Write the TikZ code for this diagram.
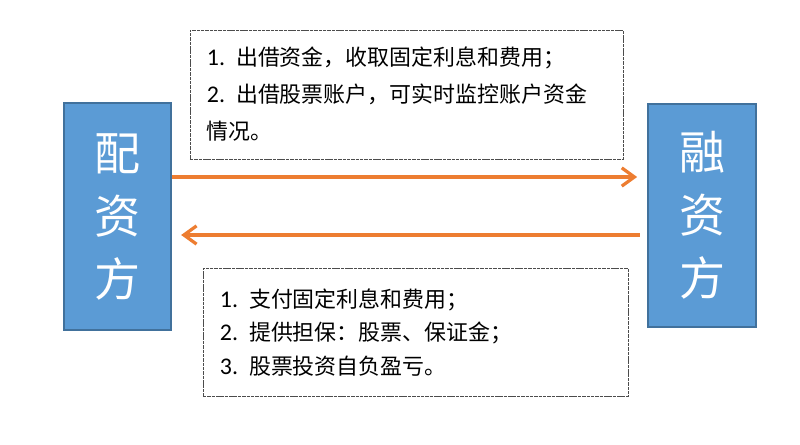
\documentclass[tikz,border=0pt]{standalone}
\usepackage{fontspec}
\newfontfamily\cjk{Noto Sans CJK SC}
\newfontfamily\latin{Carlito}
\usetikzlibrary{arrows.meta}
\definecolor{partyblue}{HTML}{5B9BD5}
\definecolor{partyedge}{HTML}{41719C}
\definecolor{flowcolor}{HTML}{ED7D31}
\newcommand{\itemno}[1]{{\latin\fontsize{17}{17}\selectfont #1.} }
\tikzset{
  party/.style={draw=partyedge, fill=partyblue, line width=1.4pt, text=white,
    font=\cjk\fontsize{32.7}{44.8}\selectfont, align=center, inner sep=0pt,
    minimum width=2.675cm},
  note/.style={draw=black!70, line width=0.6pt, dash pattern=on 2.5pt off 0.6pt,
    align=left, inner xsep=0.425cm, inner ysep=0pt, anchor=center},
  flow/.style={draw=flowcolor, line width=2.3pt,
    -{Straight Barb[length=9pt, width=13pt]}}
}
\begin{document}
\begin{tikzpicture}[x=0.025cm, y=-0.025cm]
  \useasboundingbox (0,0) rectangle (800,445);

  % Draw the two parties
  \node[party, minimum height=5.675cm] (pz) at (117.5,216.5) {配\\资\\方};
  \node[party, minimum height=5.575cm, minimum width=2.7cm] (rz) at (702,215.5) {融\\资\\方};

  % Draw the notes above and below the arrows
  \node[note, text width=9.975cm, minimum height=3.225cm,
    font=\cjk\fontsize{15.6}{26.3}\selectfont] (lend) at (406.5,94.5)
    {\itemno{1}出借资金，收取固定利息和费用；\\
     \itemno{2}出借股票账户，可实时监控账户资金\\
     情况。\\[-6pt]};
  \node[note, text width=9.775cm, minimum height=3.2cm,
    font=\cjk\fontsize{15.6}{23.8}\selectfont] (repay) at (415.5,332.5)
    {\itemno{1}支付固定利息和费用；\\
     \itemno{2}提供担保：股票、保证金；\\
     \itemno{3}股票投资自负盈亏。};

  % Draw the arrows between the parties
  \coordinate (go) at (0,177);
  \coordinate (back) at (0,235);
  \draw[flow, shorten >=7pt] (pz.east |- go) -- (rz.west |- go);
  \draw[flow, shorten <=5pt, shorten >=6.5pt] (rz.west |- back) -- (pz.east |- back);
\end{tikzpicture}
\end{document}
